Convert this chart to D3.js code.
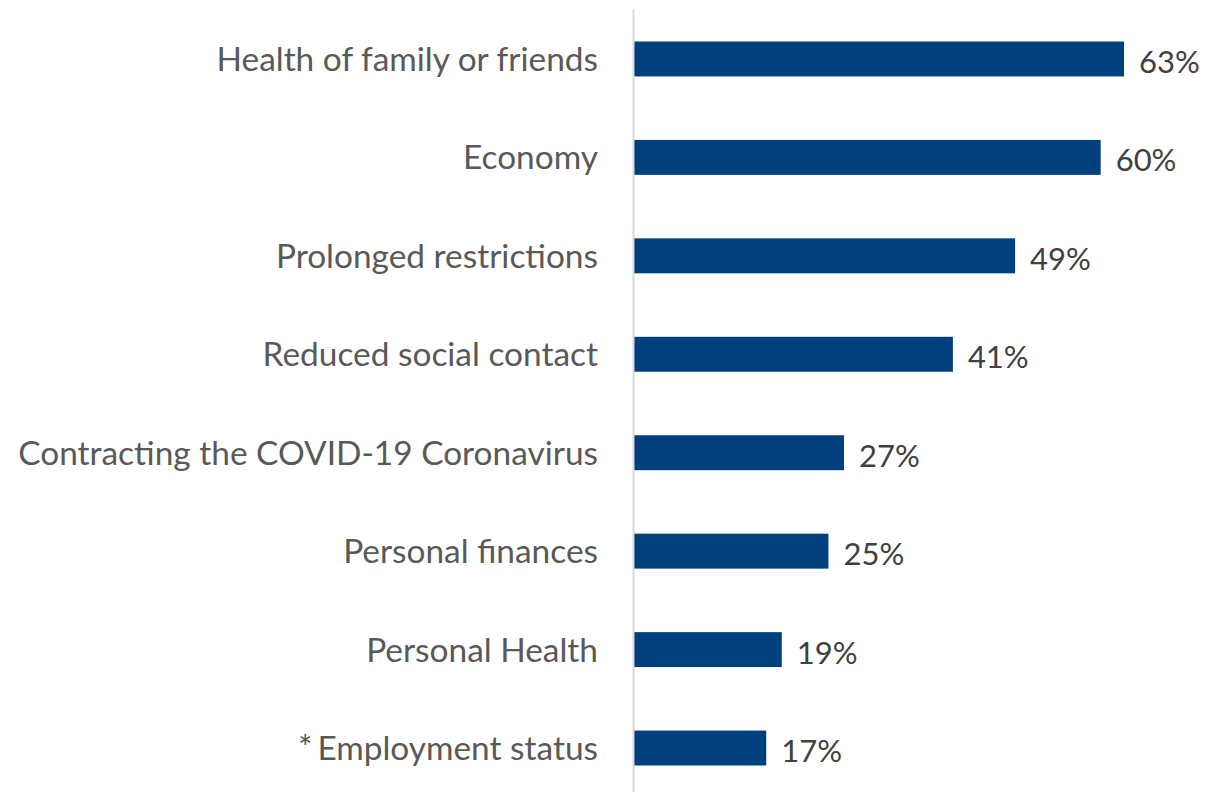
<!DOCTYPE html>
<html>
<head>
<meta charset="utf-8">
<script src="https://cdn.jsdelivr.net/npm/d3@7"></script>
<style>
  html, body { margin: 0; padding: 0; background: #fff; }
  svg { display: block; }
</style>
</head>
<body>
<svg id="chart" width="1210" height="792"></svg>
<script>
// Concerns and share of respondents (%)
const categories = [
  "Health of family or friends",
  "Economy",
  "Prolonged restrictions",
  "Reduced social contact",
  "Contracting the COVID-19 Coronavirus",
  "Personal finances",
  "Personal Health",
  "Employment status"
];
const values = [63, 60, 49, 41, 27, 25, 19, 17];
const asterisked = [false, false, false, false, false, false, false, true];

const W = 1210, H = 792;
const axisX = 634;
const labelRight = 598;
const labelLeft = 18;
const svg = d3.select("#chart");

const x = d3.scaleLinear().domain([0, 63]).range([axisX, 1124]);
const y = d3.scaleBand().domain(categories).range([10, 797]).paddingInner(0.645).paddingOuter(0.32);

const fontFamily = "Lato, 'Open Sans', sans-serif";

// Bars
svg.append("g").selectAll("rect")
  .data(categories)
  .join("rect")
  .attr("x", axisX)
  .attr("y", d => y(d))
  .attr("width", (d, i) => x(values[i]) - axisX)
  .attr("height", y.bandwidth())
  .attr("fill", "#00407f");

// Category axis line
svg.append("line")
  .attr("x1", axisX - 0.5).attr("x2", axisX - 0.5)
  .attr("y1", 10).attr("y2", H)
  .attr("stroke", "#d9d9d9").attr("stroke-width", 2);

// Category labels
const labelG = svg.append("g")
  .style("font-family", fontFamily)
  .style("font-size", "30px");
const labels = labelG.selectAll("text")
  .data(categories)
  .join("text")
  .attr("x", labelRight)
  .attr("text-anchor", "end")
  .attr("fill", "#595959");
labels.each(function(d, i) {
  const t = d3.select(this);
  if (asterisked[i]) {
    t.append("tspan").text("*").style("font-size", "34px");
    t.append("tspan").text(d).attr("dx", 5);
  } else {
    t.text(d);
  }
});

// Fit the label font so the longest label spans the space left of the axis
let widest = 0;
labels.each(function() { widest = Math.max(widest, this.getComputedTextLength()); });
const fitted = 30 * (labelRight - labelLeft) / widest;
labelG.style("font-size", fitted + "px");
labels.attr("y", d => y(d) + y.bandwidth() / 2 + 0.36 * fitted);

// Value labels
svg.append("g").selectAll("text")
  .data(categories)
  .join("text")
  .attr("x", (d, i) => x(values[i]) + 15)
  .attr("y", d => y(d) + y.bandwidth() / 2)
  .attr("dy", "0.45em")
  .attr("fill", "#404040")
  .style("font-family", fontFamily)
  .style("font-size", "31px")
  .text((d, i) => values[i] + "%");
</script>
</body>
</html>
